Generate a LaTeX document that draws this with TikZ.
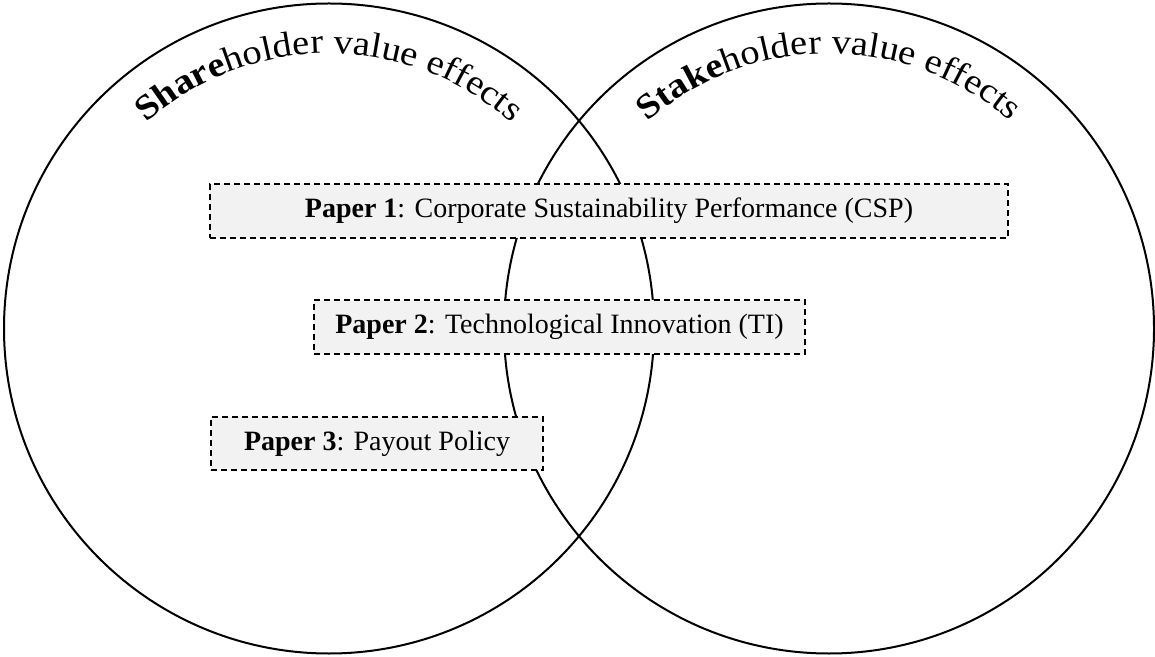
\documentclass[tikz,border=0pt]{standalone}
\usepackage{fontspec}
\setmainfont{Liberation Serif}
\newfontfamily\archfont[FakeStretch=1.1]{Liberation Serif}
\usetikzlibrary{decorations.text}
\definecolor{boxgray}{HTML}{F2F2F2}
\begin{document}
\begin{tikzpicture}[x=1pt,y=1pt,
  ring/.style={draw=black, line width=2pt},
  paperbox/.style={draw=black, fill=boxgray, line width=1.8pt,
    dash pattern=on 6pt off 4pt, minimum height=54pt, inner sep=0pt,
    font=\fontsize{28}{33}\selectfont},
]
\useasboundingbox (0,0) rectangle (1155,656);

% the two overlapping circles
\coordinate (cl) at (329,327.5);
\coordinate (cr) at (829,327.5);
\draw[ring] (cl) circle[radius=325pt];
\draw[ring] (cr) circle[radius=325pt];

% curved headings (wide letters set along an arc)
\path[decorate, decoration={text along path, text align=center,
    text={|\archfont\fontsize{35}{40}\selectfont\bfseries|Share|\archfont\fontsize{35}{40}\selectfont\mdseries|holder value effects}}]
  ([shift={(160:275pt)}]cl) arc[start angle=160, end angle=20, radius=275pt];
\path[decorate, decoration={text along path, text align=center,
    text={|\archfont\fontsize{35}{40}\selectfont\bfseries|Stake|\archfont\fontsize{35}{40}\selectfont\mdseries|holder value effects}}]
  ([shift={(160:275pt)}]cr) arc[start angle=160, end angle=20, radius=275pt];

% paper boxes
\node[paperbox, minimum width=798pt] (p1) at (609,445)
  {\textbf{Paper 1}: Corporate Sustainability Performance (CSP)};
\node[paperbox, minimum width=491pt] (p2) at (559.5,329)
  {\textbf{Paper 2}: Technological Innovation (TI)};
\node[paperbox, minimum width=332pt, minimum height=53pt] (p3) at (377,212.5)
  {\textbf{Paper 3}: Payout Policy};
\end{tikzpicture}
\end{document}
